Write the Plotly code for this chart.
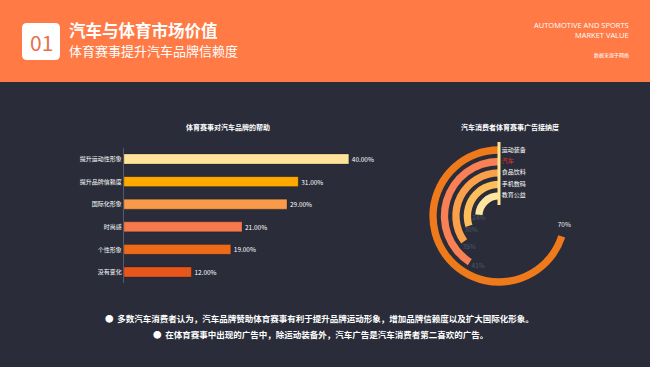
import plotly.graph_objects as go

W, H = 650, 367
FONT = "Noto Sans CJK SC"
BG = "#2A2D39"
HEADER = "#FF7A45"

# ---- data ----
help_categories = ["提升运动性形象", "提升品牌信赖度", "国际化形象", "时尚感", "个性形象", "没有变化"]
help_values = [40, 31, 29, 21, 19, 12]
help_colors = ["#FFE39B", "#FFA800", "#F99A4B", "#F6794E", "#EE6A1B", "#E8561B"]

ad_categories = ["运动装备", "汽车", "食品饮料", "手机数码", "教育公益"]
ad_values = [70, 41, 35, 30, 24]
ad_colors = ["#EE7A1C", "#F98054", "#FAA04A", "#FCBD5A", "#FFE6A0"]
ad_name_colors = ["#FFFFFF", "#E8302A", "#FFFFFF", "#FFFFFF", "#FFFFFF"]
ad_value_colors = ["#F0F0F0", "#4F576A", "#4F576A", "#4F576A", "#4F576A"]

title_main = "汽车与体育市场价值"
title_sub = "体育赛事提升汽车品牌信赖度"
notes = [
    "多数汽车消费者认为，汽车品牌赞助体育赛事有利于提升品牌运动形象，增加品牌信赖度以及扩大国际化形象。",
    "在体育赛事中出现的广告中，除运动装备外，汽车广告是汽车消费者第二喜欢的广告。",
]


def px(x):
    return x / W


def py(y):
    return 1 - y / H


fig = go.Figure()

# ---- horizontal bar chart ----
fig.add_trace(go.Bar(
    x=help_values, y=help_categories, orientation="h",
    marker=dict(color=help_colors, line=dict(width=0.8, color="rgba(0,0,0,0.25)")),
    text=[f"{v:.2f}%" for v in help_values], textposition="outside",
    textfont=dict(color="#FFFFFF", size=6.5, family=FONT),
    cliponaxis=False, width=0.44, hoverinfo="skip",
    xaxis="x", yaxis="y",
))

# ---- radial bar chart ----
n = len(ad_categories)
ring_idx = [n - 1 - i for i in range(n)]  # outer ring first
fig.add_trace(go.Barpolar(
    r=[0.64] * n,
    base=[k + 0.18 for k in ring_idx],
    theta=[v * 3.6 / 2 for v in ad_values],
    width=[v * 3.6 for v in ad_values],
    marker=dict(color=ad_colors, line=dict(width=0)),
    hoverinfo="skip", subplot="polar",
))
fig.add_trace(go.Scatterpolar(
    r=[k + 0.5 for k in ring_idx],
    theta=[v * 3.6 + 10 for v in ad_values],
    mode="text", text=[f"{v}%" for v in ad_values],
    textfont=dict(color=ad_value_colors, size=6.5, family=FONT),
    textposition="middle center", hoverinfo="skip", subplot="polar",
))
fig.add_trace(go.Scatterpolar(
    r=[k + 0.5 for k in ring_idx],
    theta=[0] * n,
    mode="text", text=["\u00a0\u00a0" + c for c in ad_categories],
    textfont=dict(color=ad_name_colors, size=6, family=FONT),
    textposition="middle right", hoverinfo="skip", subplot="polar",
))

shapes = [
    dict(type="rect", xref="paper", yref="paper", x0=0, x1=1, y0=py(82), y1=1,
         fillcolor=HEADER, line=dict(width=0), layer="below"),
]
# rounded white square
x0, x1, y0, y1, rr = 22, 60, 23, 60, 5
path = (f"M {px(x0+rr)},{py(y0)} L {px(x1-rr)},{py(y0)} Q {px(x1)},{py(y0)} {px(x1)},{py(y0+rr)} "
        f"L {px(x1)},{py(y1-rr)} Q {px(x1)},{py(y1)} {px(x1-rr)},{py(y1)} "
        f"L {px(x0+rr)},{py(y1)} Q {px(x0)},{py(y1)} {px(x0)},{py(y1-rr)} "
        f"L {px(x0)},{py(y0+rr)} Q {px(x0)},{py(y0)} {px(x0+rr)},{py(y0)} Z")
shapes.append(dict(type="path", xref="paper", yref="paper", path=path,
                   fillcolor="#FFFFFF", line=dict(width=0)))


def ann(text, x, y, size, color="#FFFFFF", xanchor="left", bold=False):
    if bold:
        text = f"<b>{text}</b>"
    return dict(text=text, x=px(x), y=py(y), xref="paper", yref="paper",
                xanchor=xanchor, yanchor="middle", showarrow=False,
                font=dict(size=size, color=color, family=FONT))


annotations = [
    ann("01", 41, 42, 21, color="#E8704A", xanchor="center"),
    ann(title_main, 67, 30, 16.5, bold=True),
    ann(title_sub, 67, 51, 13),
    dict(text="AUTOMOTIVE AND SPORTS<br>MARKET VALUE", x=px(631), y=py(30), xref="paper", yref="paper",
         xanchor="right", yanchor="middle", align="right", showarrow=False,
         font=dict(size=7.5, color="#FFFFFF", family="Open Sans")),
    ann("数据来源于网络", 631, 55, 5, xanchor="right"),
    ann("体育赛事对汽车品牌的帮助", 228, 127, 7, xanchor="center", bold=True),
    ann("汽车消费者体育赛事广告接纳度", 510, 127, 7, xanchor="center", bold=True),
    ann("●  " + notes[0], 319, 318, 8.5, xanchor="center", bold=True),
    ann("●  " + notes[1], 320, 334, 8.5, xanchor="center", bold=True),
]

fig.update_layout(
    width=W, height=H, margin=dict(l=0, r=0, t=0, b=0),
    paper_bgcolor=BG, plot_bgcolor="rgba(0,0,0,0)",
    showlegend=False, bargap=0.56,
    shapes=shapes, annotations=annotations,
    xaxis=dict(domain=[px(124), px(405)], range=[0, 50], visible=False, fixedrange=True),
    yaxis=dict(domain=[py(283.3), py(147.7)], autorange="reversed", type="category",
               showline=True, linecolor="#555A68", linewidth=1, ticks="",
               showgrid=False, zeroline=False,
               tickfont=dict(color="#FFFFFF", size=6, family=FONT)),
    polar=dict(
        domain=dict(x=[px(425), px(573)], y=[py(290), py(142)]),
        bgcolor="rgba(0,0,0,0)", hole=11 / 74,
        angularaxis=dict(visible=False, rotation=90, direction="counterclockwise"),
        radialaxis=dict(range=[-0.3, 5.2], angle=90, showline=True, linecolor="#FFE28F",
                        linewidth=3, showticklabels=False, ticks="", showgrid=False),
    ),
)

fig.write_html(
    "out.html",
    config={"displayModeBar": False},
    post_script="document.body.style.margin='0';document.body.style.overflow='hidden';",
)
